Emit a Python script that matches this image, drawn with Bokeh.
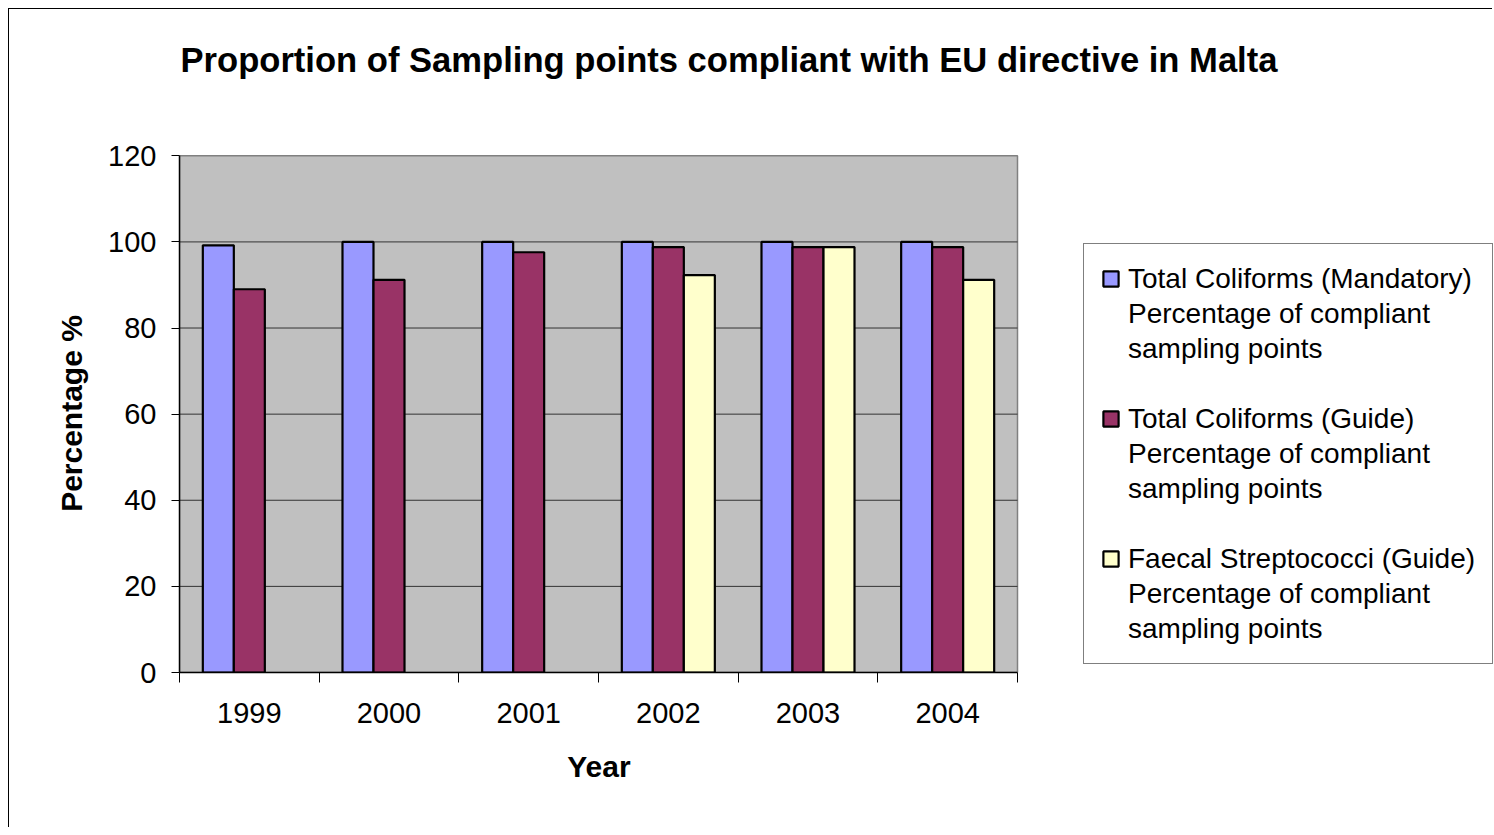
from bokeh.plotting import figure
from bokeh.models import (FixedTicker, Legend, LegendItem, ColumnDataSource, Range1d, Title)
from bokeh.embed import file_html
from bokeh.resources import INLINE

years = ["1999", "2000", "2001", "2002", "2003", "2004"]
mandatory = [99.2, 100, 100, 100, 100, 100]
guide = [89, 91.2, 97.6, 98.8, 98.8, 98.8]
faecal = [None, None, None, 92.3, 98.8, 91.2]
series_titles = ["Total Coliforms (Mandatory)", "Total Coliforms (Guide)", "Faecal Streptococci (Guide)"]
series_sub = ["Percentage of compliant", "sampling points"]
colors = ["#9999FF", "#993366", "#FFFFCC"]
y_ticks = [0, 20, 40, 60, 80, 100, 120]

FONT = "Liberation Sans"
W, H = 1484, 819
LEFT, TOP, BOTTOM = 170, 145, 156
PLOT_W = 838          # pixel width of the grey plot area
frame_w = W - LEFT

xs = list(range(1, len(years) + 1))
x0, x1 = xs[0] - 0.5, xs[-1] + 0.5
x_end = x0 + (x1 - x0) * frame_w / PLOT_W
y0, y1 = y_ticks[0], y_ticks[-1]

p = figure(width=W, height=H, output_backend="svg", toolbar_location=None,
           x_range=Range1d(x0, x_end), y_range=Range1d(y0, y1 * 1.0025),
           min_border_left=LEFT, min_border_right=0, min_border_top=TOP, min_border_bottom=BOTTOM)
p.background_fill_color = "white"
p.border_fill_color = "white"
p.outline_line_color = None

p.title.text = "Proportion of Sampling points compliant with EU directive in Malta"
p.title.text_font = FONT
p.title.text_font_size = "34.6px"
p.title.text_font_style = "bold"
p.title.text_color = "black"
p.title.align = "left"
p.title.offset = 1
p.title.standoff = 56

spacer = Title(text=" ", text_font_size="1px", standoff=45)
p.add_layout(spacer, "above")

# grey plot area and gridlines
p.quad(left=[x0], right=[x1], bottom=[y0], top=[y1],
       fill_color="#C0C0C0", line_color="#808080", line_width=1.5)
inner = [t for t in y_ticks if y0 < t < y1]
p.segment(x0=[x0] * len(inner), x1=[x1] * len(inner), y0=inner, y1=inner,
          line_color="#333333", line_width=1)

bw = 0.222
renderers = []
for k, (vals, col) in enumerate(zip([mandatory, guide, faecal], colors)):
    xx = [x + (k - 1) * bw for x, v in zip(xs, vals) if v is not None]
    vv = [v for v in vals if v is not None]
    src = ColumnDataSource(dict(x=xx, top=vv))
    r = p.vbar(x="x", top="top", width=bw, bottom=0, source=src,
               fill_color=col, line_color="black", line_width=2.2)
    renderers.append(r)

# invisible renderer used for legend continuation lines
blank = p.vbar(x=[], top=[], width=bw, fill_alpha=0, line_alpha=0)

# axes
p.xaxis.bounds = (x0, x1)
p.xaxis.ticker = FixedTicker(ticks=xs, minor_ticks=[x - 0.5 for x in xs] + [x1])
p.xaxis.major_label_overrides = {x: y for x, y in zip(xs, years)}
p.xaxis.major_tick_out = 0
p.xaxis.major_tick_in = 0
p.xaxis.minor_tick_out = 10
p.xaxis.minor_tick_in = 0
p.xaxis.minor_tick_line_color = "black"
p.xaxis.axis_line_color = "black"
p.xaxis.axis_line_width = 1.5
p.xaxis.major_label_text_font = FONT
p.xaxis.major_label_text_font_size = "29px"
p.xaxis.major_label_text_color = "black"
p.xaxis.major_label_standoff = 20
# axis label is centred on the whole frame; pad it so it sits under the plot area
p.xaxis.axis_label = "Year" + "\u00a0" * 57
p.xaxis.axis_label_text_font = FONT
p.xaxis.axis_label_text_font_size = "30px"
p.xaxis.axis_label_text_font_style = "bold"
p.xaxis.axis_label_text_color = "black"
p.xaxis.axis_label_standoff = 24

p.yaxis.bounds = (y0, y1)
p.yaxis.ticker = FixedTicker(ticks=y_ticks)
p.yaxis.minor_tick_line_color = None
p.yaxis.major_tick_out = 8
p.yaxis.major_tick_in = 0
p.yaxis.major_tick_line_color = "black"
p.yaxis.axis_line_color = "black"
p.yaxis.axis_line_width = 1.5
p.yaxis.major_label_text_font = FONT
p.yaxis.major_label_text_font_size = "29px"
p.yaxis.major_label_text_color = "black"
p.yaxis.major_label_standoff = 15
p.yaxis.axis_label = "Percentage %"
p.yaxis.axis_label_text_font = FONT
p.yaxis.axis_label_text_font_size = "30px"
p.yaxis.axis_label_text_font_style = "bold"
p.yaxis.axis_label_text_color = "black"
p.yaxis.axis_label_standoff = 17

p.xgrid.grid_line_color = None
p.ygrid.grid_line_color = None

items = []
for i, (name, r) in enumerate(zip(series_titles, renderers)):
    if i > 0:
        items.append(LegendItem(label=" ", renderers=[blank]))
    items.append(LegendItem(label=name, renderers=[r]))
    for sub in series_sub:
        items.append(LegendItem(label=sub, renderers=[blank]))

legend = Legend(items=items, location=(904, 8), orientation="vertical")
legend.label_text_font = FONT
legend.label_text_font_size = "28px"
legend.label_text_color = "black"
legend.label_height = 35
legend.glyph_width = 19
legend.glyph_height = 19
legend.label_standoff = 8
legend.spacing = 0
legend.padding = 17
legend.margin = 0
legend.border_line_color = "black"
legend.border_line_width = 1
legend.background_fill_color = "white"
legend.background_fill_alpha = 1
p.add_layout(legend)

p.styles = {"margin-left": "8px", "margin-top": "8px",
            "border-left": "1.5px solid black", "border-top": "1.5px solid black"}

open("out.html", "w").write(file_html(p, INLINE))
